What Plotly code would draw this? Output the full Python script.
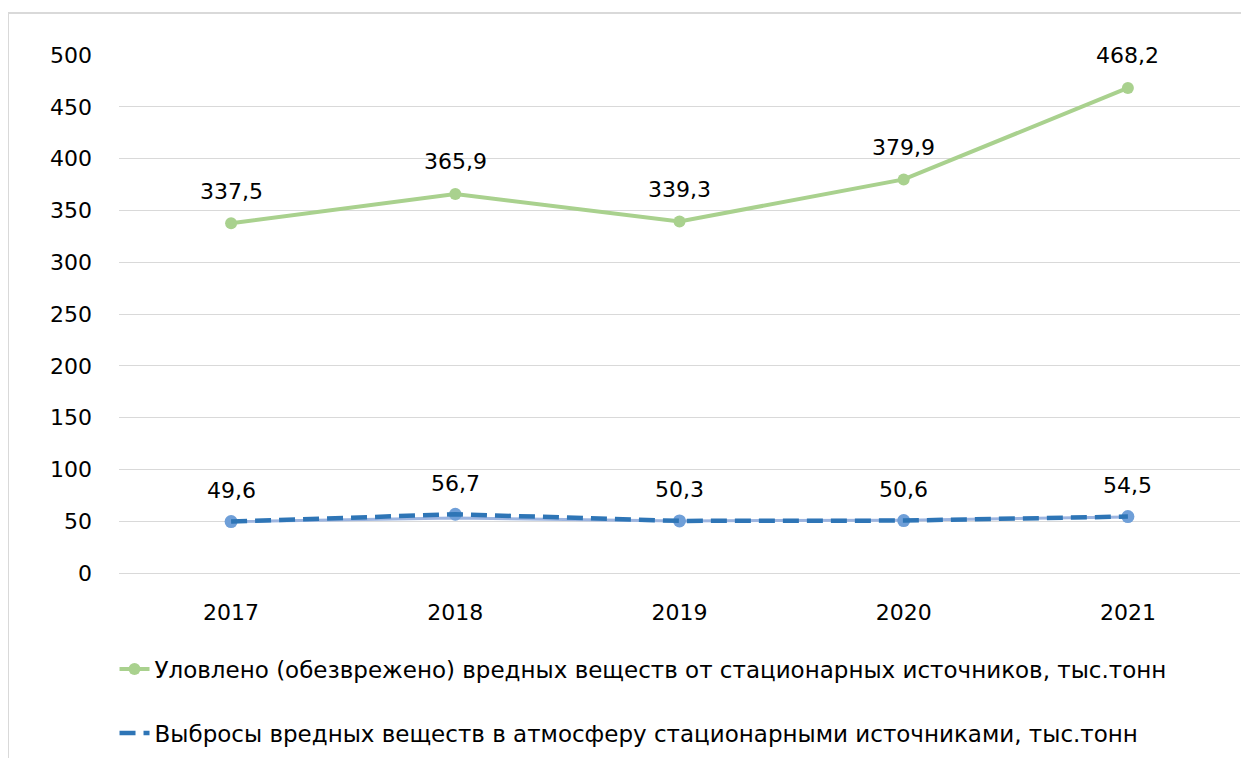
import plotly.graph_objects as go

years = ["2017", "2018", "2019", "2020", "2021"]
captured = [337.5, 365.9, 339.3, 379.9, 468.2]
emissions = [49.6, 56.7, 50.3, 50.6, 54.5]
emissions_light = [49.6, 53.0, 50.3, 51.0, 54.0]
captured_labels = ["337,5", "365,9", "339,3", "379,9", "468,2"]
emissions_labels = ["49,6", "56,7", "50,3", "50,6", "54,5"]
y_ticks = [0, 50, 100, 150, 200, 250, 300, 350, 400, 450, 500]

name_captured = "Уловлено (обезврежено) вредных веществ от стационарных источников, тыс.тонн"
name_emis = "Выбросы вредных веществ в атмосферу стационарными источниками, тыс.тонн"

FONT = "DejaVu Sans"
fig = go.Figure()

fig.add_trace(go.Scatter(
    x=years, y=captured, mode="lines+markers", name=name_captured,
    line=dict(color="#A9D18E", width=4), marker=dict(color="#A9D18E", size=12),
    legendgroup="a", legendrank=1,
))
fig.add_trace(go.Scatter(
    x=years, y=emissions_light, mode="lines", showlegend=False,
    line=dict(color="#9DB5E0", width=3), hoverinfo="skip",
))
fig.add_trace(go.Scatter(
    x=years, y=emissions, mode="markers", showlegend=False,
    marker=dict(color="#6F9FD8", size=13), legendgroup="b",
))
fig.add_trace(go.Scatter(
    x=years, y=emissions, mode="lines", name=name_emis,
    line=dict(color="#2E75B6", width=4.5, dash="16px,8px"),
    legendgroup="b", legendrank=2,
))

for i, (y, t) in enumerate(zip(captured, captured_labels)):
    fig.add_annotation(x=i, y=y, xref="x", yref="y", text=t, showarrow=False, yshift=32,
                       font=dict(family=FONT, size=22, color="#000"))
for i, (y, t) in enumerate(zip(emissions, emissions_labels)):
    fig.add_annotation(x=i, y=y, xref="x", yref="y", text=t, showarrow=False, yshift=31,
                       font=dict(family=FONT, size=22, color="#000"))

fig.add_shape(type="rect", xref="paper", yref="paper",
              x0=-0.099, x1=1.05, y0=-0.5, y1=1.081,
              line=dict(color="#D9D9D9", width=2), layer="below")

fig.update_layout(
    width=1241, height=750,
    margin=dict(l=111, r=9, t=47, b=185, autoexpand=False),
    paper_bgcolor="white", plot_bgcolor="white",
    font=dict(family=FONT, size=22, color="#000"),
    xaxis=dict(type="category", range=[-0.5, 4.5], showgrid=False,
               showline=True, linecolor="#D9D9D9", linewidth=1,
               ticks="", ticklabelstandoff=20, zeroline=False),
    yaxis=dict(range=[0, 500], tickvals=y_ticks, showgrid=True,
               gridcolor="#D9D9D9", gridwidth=1, zeroline=False,
               ticks="", ticklabelstandoff=26, showline=False),
    legend=dict(orientation="v", x=-0.004, xanchor="left", y=-0.144, yanchor="top",
                font=dict(family=FONT, size=23), tracegroupgap=31,
                bgcolor="rgba(0,0,0,0)"),
    showlegend=True,
)

fig.write_html("out.html")
